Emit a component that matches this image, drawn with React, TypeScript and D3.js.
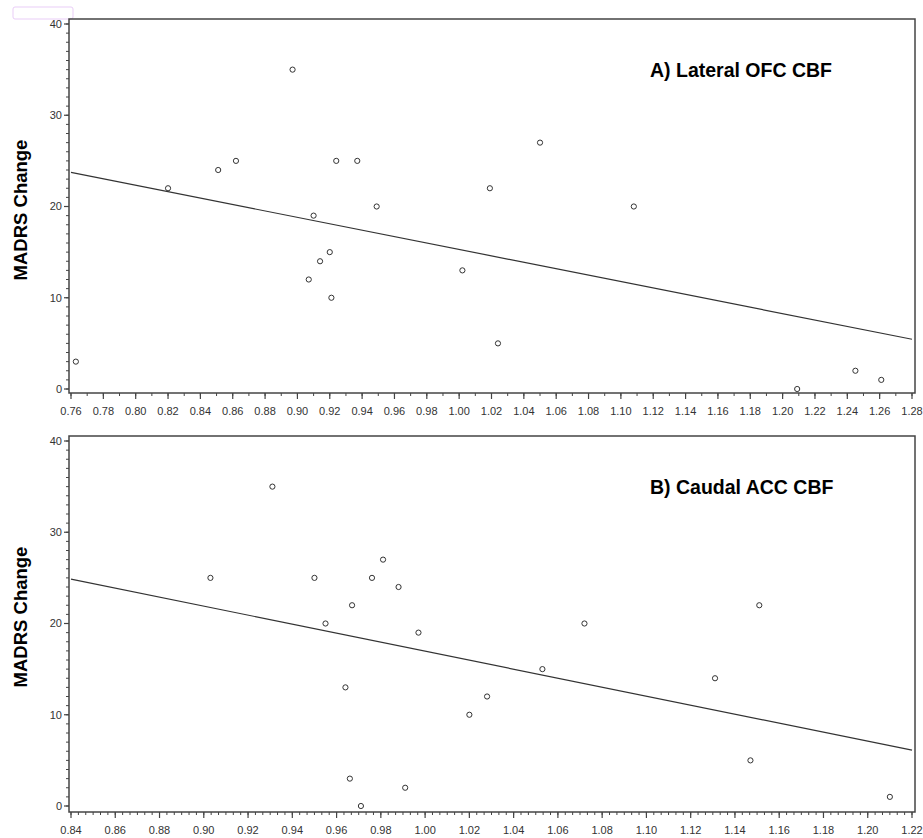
import React, { useEffect, useRef } from "react";
import * as d3 from "d3";

// panel A: lateral OFC CBF vs MADRS change
const ofcCbf = [0.763, 0.82, 0.851, 0.862, 0.897, 0.907, 0.91, 0.914, 0.92, 0.921, 0.924, 0.937, 0.949, 1.002, 1.019, 1.024, 1.05, 1.108, 1.209, 1.245, 1.261];
const ofcMadrs = [3, 22, 24, 25, 35, 12, 19, 14, 15, 10, 25, 25, 20, 13, 22, 5, 27, 20, 0, 2, 1];

// panel B: caudal ACC CBF vs MADRS change
const accCbf = [0.903, 0.931, 0.95, 0.955, 0.964, 0.966, 0.967, 0.971, 0.976, 0.981, 0.988, 0.991, 0.997, 1.02, 1.028, 1.053, 1.072, 1.131, 1.147, 1.151, 1.21];
const accMadrs = [25, 35, 25, 20, 13, 3, 22, 0, 25, 27, 24, 2, 19, 10, 12, 15, 20, 14, 5, 22, 1];

const yTicks = [0, 10, 20, 30, 40];
const ofcXTicks = d3.range(0, 27).map((i) => 0.76 + i * 0.02);
const accXTicks = d3.range(0, 20).map((i) => 0.84 + i * 0.02);

const panels = [
  { title: "A) Lateral OFC CBF", xs: ofcCbf, ys: ofcMadrs, ticks: ofcXTicks, minorPer: 2, top: 19, bottom: 393, y0: 389, y40: 24, labelMid: 210 },
  { title: "B) Caudal ACC CBF", xs: accCbf, ys: accMadrs, ticks: accXTicks, minorPer: 6, top: 436, bottom: 812, y0: 806, y40: 441, labelMid: 617 },
];

const fit = (xs: number[], ys: number[]) => {
  const mx = d3.mean(xs)!;
  const my = d3.mean(ys)!;
  const sxy = d3.sum(xs, (x, i) => (x - mx) * (ys[i] - my));
  const sxx = d3.sum(xs, (x) => (x - mx) * (x - mx));
  const b = sxy / sxx;
  return { a: my - b * mx, b };
};

const App = () => {
  const ref = useRef<SVGSVGElement>(null);

  useEffect(() => {
    const svg = d3.select(ref.current);
    svg.selectAll("*").remove();
    const axisColor = "#444";
    const font = "Arial, 'Liberation Sans', sans-serif";

    // selection artifact in the corner
    svg.append("rect")
      .attr("x", 13).attr("y", 7).attr("width", 60).attr("height", 12)
      .attr("rx", 2).attr("fill", "none").attr("stroke", "#e9cdf7");

    panels.forEach((p) => {
      const left = 69, right = 915;
      const ticks = p.ticks;
      const x = d3.scaleLinear().domain([ticks[0], ticks[ticks.length - 1]]).range([71, 912]);
      const y = d3.scaleLinear().domain([0, 40]).range([p.y0, p.y40]);
      const g = svg.append("g");

      // frame
      g.append("rect")
        .attr("x", left).attr("y", p.top)
        .attr("width", right - left).attr("height", p.bottom - p.top)
        .attr("fill", "none").attr("stroke", axisColor).attr("stroke-width", 1.5);

      // x ticks
      const step = (ticks[1] - ticks[0]) / p.minorPer;
      const minor = d3.range(0, (ticks.length - 1) * p.minorPer + 1).map((i) => ticks[0] + i * step);
      g.selectAll(".xminor").data(minor).join("line")
        .attr("x1", (d) => x(d)).attr("x2", (d) => x(d))
        .attr("y1", p.bottom).attr("y2", p.bottom + 3)
        .attr("stroke", axisColor).attr("stroke-width", 1);
      g.selectAll(".xmajor").data(ticks).join("line")
        .attr("x1", (d) => x(d)).attr("x2", (d) => x(d))
        .attr("y1", p.bottom).attr("y2", p.bottom + 6)
        .attr("stroke", axisColor).attr("stroke-width", 1.2);
      g.selectAll(".xlab").data(ticks).join("text")
        .attr("x", (d) => x(d)).attr("y", p.bottom + 22)
        .attr("text-anchor", "middle")
        .attr("font-family", font).attr("font-size", 11).attr("fill", "#333")
        .text((d) => d.toFixed(2));

      // y ticks
      g.selectAll(".yminor").data(d3.range(0, 41)).join("line")
        .attr("x1", left).attr("x2", left - 3)
        .attr("y1", (d) => y(d)).attr("y2", (d) => y(d))
        .attr("stroke", axisColor).attr("stroke-width", 1);
      g.selectAll(".ymajor").data(yTicks).join("line")
        .attr("x1", left).attr("x2", left - 5)
        .attr("y1", (d) => y(d)).attr("y2", (d) => y(d))
        .attr("stroke", axisColor).attr("stroke-width", 1.2);
      g.selectAll(".ylab").data(yTicks).join("text")
        .attr("x", 62).attr("y", (d) => y(d)).attr("dy", "0.35em")
        .attr("text-anchor", "end")
        .attr("font-family", font).attr("font-size", 11).attr("fill", "#333")
        .text((d) => d);

      // regression line
      const { a, b } = fit(p.xs, p.ys);
      const [d0, d1] = x.domain();
      g.append("line")
        .attr("x1", x(d0)).attr("y1", y(a + b * d0))
        .attr("x2", x(d1)).attr("y2", y(a + b * d1))
        .attr("stroke", "#333").attr("stroke-width", 1.2);

      // points
      g.selectAll(".pt").data(p.xs).join("circle")
        .attr("cx", (d) => x(d)).attr("cy", (d, i) => y(p.ys[i]))
        .attr("r", 2.6).attr("fill", "white")
        .attr("stroke", "#333").attr("stroke-width", 1);

      // labels
      g.append("text")
        .attr("x", 650).attr("y", p.top + 58)
        .attr("font-family", font).attr("font-weight", "bold")
        .attr("font-size", 19.5).attr("fill", "#000")
        .text(p.title);
      g.append("text")
        .attr("transform", `translate(27,${p.labelMid}) rotate(-90)`)
        .attr("text-anchor", "middle")
        .attr("font-family", font).attr("font-weight", "bold")
        .attr("font-size", 18.5).attr("fill", "#000")
        .text("MADRS Change");
    });
  }, []);

  return (
    <svg
      ref={ref}
      width={923}
      height={838}
      style={{ position: "absolute", left: 0, top: 0, background: "white" }}
    />
  );
};

export default App;
